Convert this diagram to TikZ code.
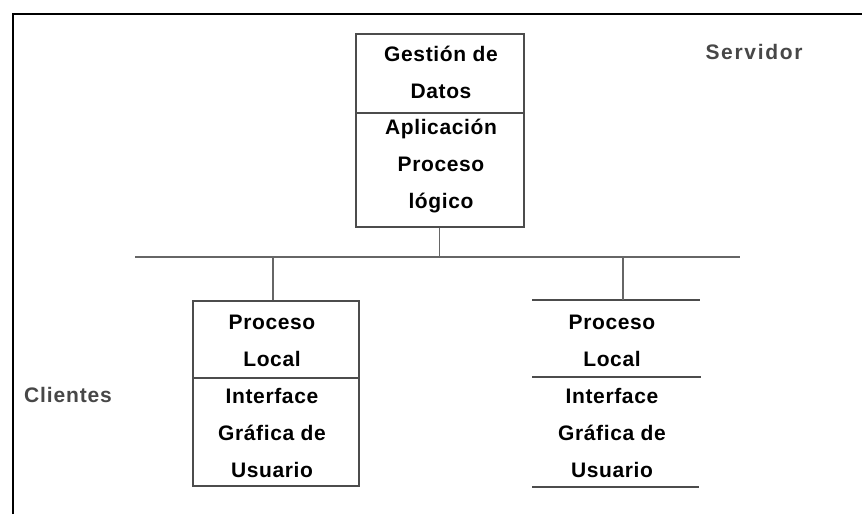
\documentclass[tikz,border=0pt]{standalone}
\usepackage{fontspec}
\newfontfamily\boxfont{Liberation Sans}[LetterSpace=3]
\newfontfamily\srvfont{Liberation Sans}[LetterSpace=8]
\newfontfamily\clifont{Liberation Sans}[LetterSpace=4]
\tikzset{
  frame/.style={line width=2pt, black},
  sepline/.style={line width=1.2pt, draw=black!70},
  busline/.style={line width=1.3pt, draw=black!60},
  barline/.style={line width=2.6pt, draw=black!70},
  tier/.style={draw=black!70, line width=1.6pt, rectangle, inner sep=0pt},
  txt/.style={font=\boxfont\bfseries\fontsize{21}{37}\selectfont, align=center, inner sep=0pt},
  side/.style={font=\bfseries\fontsize{21}{24}\selectfont, text=black!72, inner sep=0pt}
}
\begin{document}
\begin{tikzpicture}[x=1pt,y=-1pt]
\useasboundingbox (0,0) rectangle (862,514);
% outer frame (top and left edges)
\draw[frame] (13,514) -- (13,14) -- (862,14);

% server
\node[tier, minimum width=168pt, minimum height=193pt, anchor=north west] (srv) at (355,33) {};
\coordinate (srvdivL) at (355,113);
\coordinate (srvdivR) at (523,113);
\draw[sepline] (srvdivL) -- (srvdivR);
\node[txt] (srvA) at (441,72) {Gestión de\\Datos};
\node[txt] (srvB) at (441,166) {\fontsize{21}{35}\selectfont Aplicación\\Proceso\\lógico};
\node[side, font=\srvfont\bfseries\fontsize{21}{24}\selectfont] (servidor) at (754,52) {Servidor};

% network bus
\coordinate (busL) at (135,257);
\coordinate (busR) at (740,257);
\draw[busline] (busL) -- (busR);
\draw[busline] (srv.south) -- (srv.south |- busL);

% left client
\node[tier, minimum width=166pt, minimum height=185pt, anchor=north west] (cl1) at (192,300) {};
\coordinate (cl1divL) at (192,378);
\coordinate (cl1divR) at (358,378);
\draw[sepline] (cl1divL) -- (cl1divR);
\node[txt] (cl1A) at (272,341) {Proceso\\Local};
\node[txt] (cl1B) at (272,433) {Interface\\Gráfica de\\Usuario};
\draw[busline] (cl1.north -| 273,0) -- (273,257);

% right client (open sides)
\coordinate (cl2TL) at (532,300);
\coordinate (cl2TR) at (700,300);
\coordinate (cl2ML) at (532,377);
\coordinate (cl2MR) at (701,377);
\coordinate (cl2BL) at (532,487);
\coordinate (cl2BR) at (699,487);
\draw[barline] (cl2TL) -- (cl2TR);
\draw[sepline] (cl2ML) -- (cl2MR);
\draw[barline] (cl2BL) -- (cl2BR);
\coordinate (cl2top) at (623,300);
\draw[busline] (cl2top) -- (cl2top |- busL);
\node[txt] (cl2A) at (612,341) {Proceso\\Local};
\node[txt] (cl2B) at (612,433) {Interface\\Gráfica de\\Usuario};

\node[side, font=\clifont\bfseries\fontsize{21}{24}\selectfont] (clientes) at (68,395) {Clientes};
\end{tikzpicture}
\end{document}
